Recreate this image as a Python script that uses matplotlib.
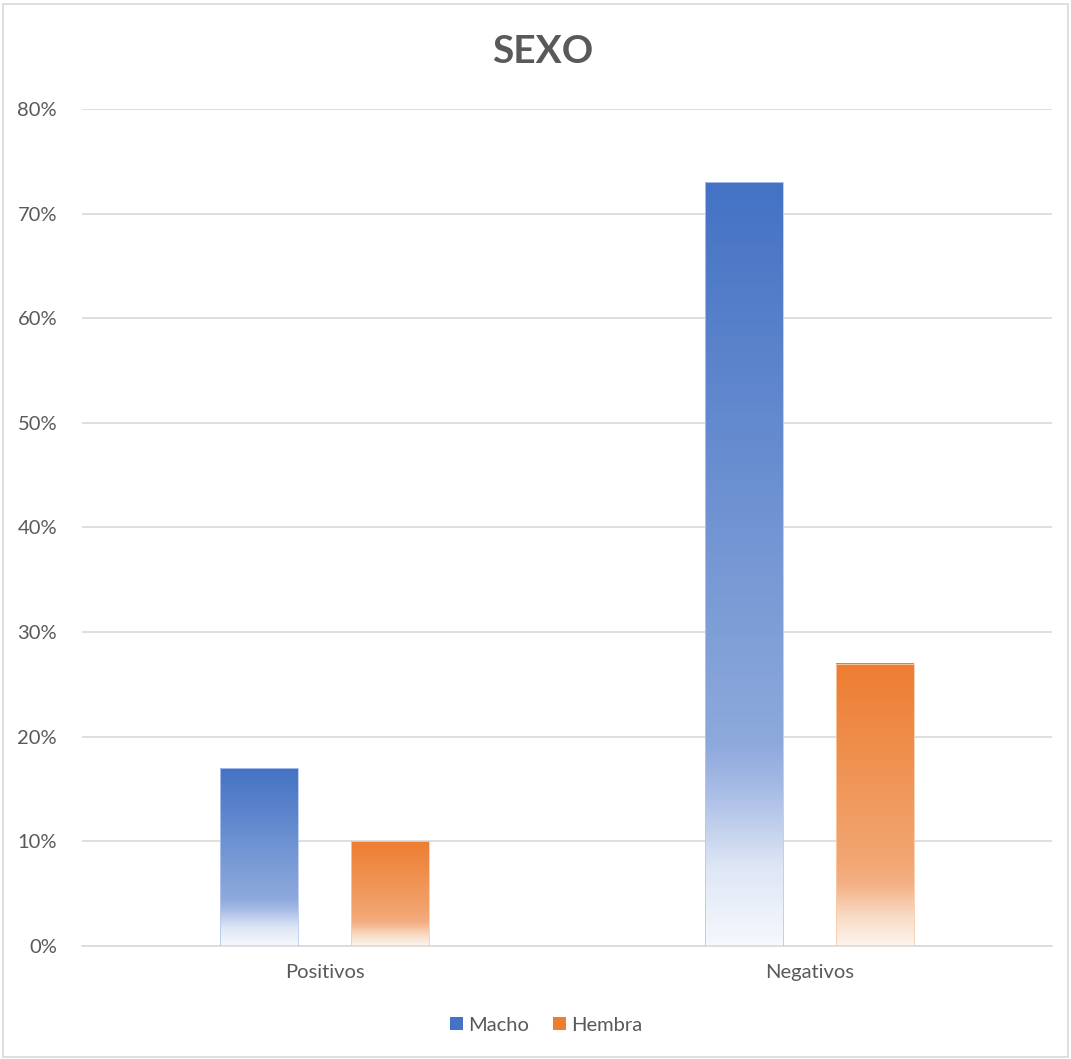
import matplotlib.pyplot as plt
import numpy as np
from matplotlib.colors import LinearSegmentedColormap
from matplotlib.patches import Rectangle, Patch
from matplotlib.ticker import PercentFormatter

plt.rcParams['font.family'] = ['Lato', 'DejaVu Sans']

categories = ["Positivos", "Negativos"]
series_names = ["Macho", "Hembra"]
macho = [0.17, 0.73]
hembra = [0.10, 0.27]
yticks = [0, 0.1, 0.2, 0.3, 0.4, 0.5, 0.6, 0.7, 0.8]

blue_cmap = LinearSegmentedColormap.from_list(
    "blue", [(0.0, "#f5f8fd"), (0.10, "#dfe7f5"), (0.20, "#a9bde6"),
             (0.26, "#8eaadc"), (1.0, "#4472c4")])
orange_cmap = LinearSegmentedColormap.from_list(
    "orange", [(0.0, "#fdf5ef"), (0.10, "#f8dcc6"), (0.22, "#f3b084"),
               (0.30, "#f2a672"), (1.0, "#ed7d31")])

fig = plt.figure(figsize=(10.71, 10.59), dpi=100)
ax = fig.add_axes([0.0766, 0.1067, 0.9057, 0.7904])

# light border around the chart area
fig.patches.append(Rectangle((0.003, 0.002), 0.994, 0.994, transform=fig.transFigure,
                             fill=False, edgecolor="#d9d9d9", linewidth=1.2))

x = np.arange(len(categories))
width = 0.16
offset = 0.135
grad = np.linspace(0, 1, 256).reshape(-1, 1)

for vals, off, cmap, edge in [(macho, -offset, blue_cmap, "#b4c8ee"),
                              (hembra, offset, orange_cmap, "#f7cba9")]:
    bars = ax.bar(x + off, vals, width, color="none", edgecolor=edge, linewidth=0.6, zorder=3)
    for b in bars:
        x0, w, h = b.get_x(), b.get_width(), b.get_height()
        ax.imshow(grad, cmap=cmap, origin="lower", aspect="auto",
                  extent=(x0, x0 + w, 0, h), zorder=2, interpolation="bilinear")

ax.set_xlim(-0.5, 1.5)
ax.set_ylim(0, 0.8)
ax.set_yticks(yticks)
ax.yaxis.set_major_formatter(PercentFormatter(1.0, decimals=0))
ax.set_xticks(x)
ax.set_xticklabels(categories)
ax.grid(axis="y", color="#d9d9d9", linewidth=1.2, zorder=0)
ax.set_axisbelow(True)
for s in ["top", "right", "left"]:
    ax.spines[s].set_visible(False)
ax.spines["bottom"].set_color("#d9d9d9")
ax.spines["bottom"].set_linewidth(1.2)
ax.tick_params(axis="both", length=0, labelsize=14.5, colors="#595959")
ax.tick_params(axis="y", pad=18)
ax.tick_params(axis="x", pad=13)

fig.text(0.507, 0.951, "SEXO", ha="center", va="center", fontsize=28,
         fontweight="bold", color="#595959")

handles = [Patch(facecolor="#4472c4", label="Macho"),
           Patch(facecolor="#ed7d31", label="Hembra")]
fig.legend(handles=handles, loc="center", bbox_to_anchor=(0.51, 0.032), ncol=2,
           frameon=False, fontsize=14.5, handlelength=0.65, handleheight=0.65,
           handletextpad=0.25, columnspacing=1.2, labelcolor="#595959")

plt.savefig("out.png", dpi=100)
plt.close()
